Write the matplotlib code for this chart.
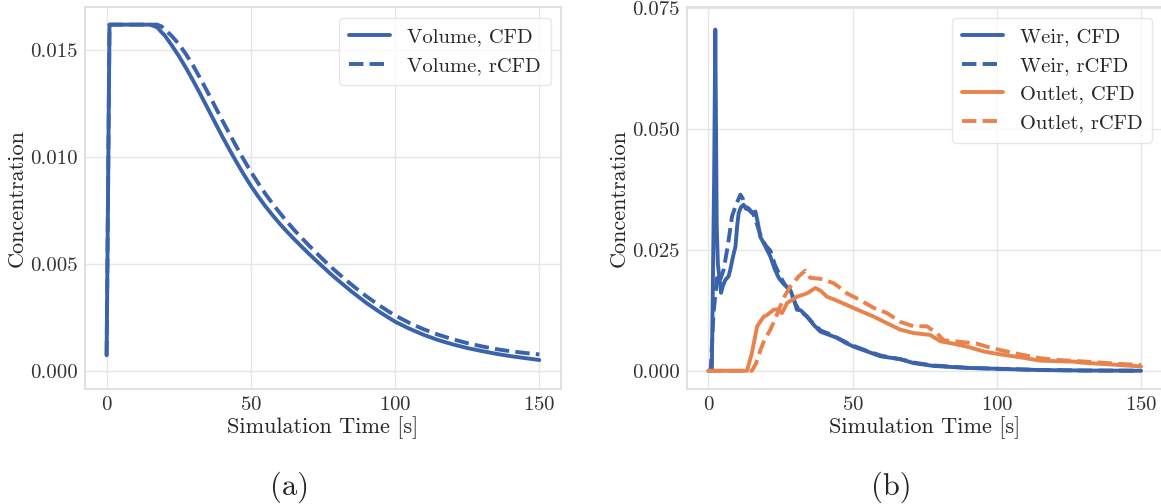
import matplotlib
matplotlib.use("Agg")
import matplotlib.pyplot as plt
from matplotlib.ticker import FormatStrFormatter

# ---- data -------------------------------------------------------------
# (a) tracer concentration averaged over the volume
t_volume = [0, 1, 5, 10, 15, 17.5, 19, 20, 22.5, 25, 27.5, 30, 32.5, 35, 37.5,
            40, 42.5, 45, 47.5, 50, 52.5, 55, 57.5, 60, 62.5, 65, 67.5, 70,
            72.5, 75, 77.5, 80, 82.5, 85, 87.5, 90, 92.5, 95, 97.5, 100, 105,
            110, 115, 120, 125, 130, 135, 140, 145, 150]
volume_cfd = [0.00075, 0.0162, 0.0162, 0.0162, 0.0162, 0.01608, 0.01585,
              0.01572, 0.01525, 0.01474, 0.01418, 0.01358, 0.01295, 0.01230,
              0.01165, 0.01100, 0.01038, 0.00978, 0.00921, 0.00867, 0.00818,
              0.00772, 0.00730, 0.00690, 0.00653, 0.00618, 0.00584, 0.00551,
              0.00519, 0.00488, 0.00457, 0.00428, 0.00400, 0.00372, 0.00346,
              0.00320, 0.00297, 0.00274, 0.00253, 0.00232, 0.00199, 0.00170,
              0.00146, 0.00126, 0.00109, 0.00095, 0.00082, 0.00071, 0.00062,
              0.00053]
volume_rcfd = [0.00075, 0.0162, 0.0162, 0.0162, 0.0162, 0.0162, 0.01612,
               0.01600, 0.01568, 0.01530, 0.01482, 0.01428, 0.01368, 0.01305,
               0.01240, 0.01175, 0.01112, 0.01050, 0.00990, 0.00933, 0.00880,
               0.00830, 0.00784, 0.00741, 0.00700, 0.00661, 0.00625, 0.00590,
               0.00556, 0.00523, 0.00491, 0.00461, 0.00432, 0.00404, 0.00377,
               0.00351, 0.00327, 0.00304, 0.00282, 0.00261, 0.00226, 0.00196,
               0.00171, 0.00150, 0.00132, 0.00117, 0.00104, 0.00094, 0.00086,
               0.00079]

# (b) concentration at the weir and at the outlet
t_weir_cfd = [0, 1.2, 2.0, 2.4, 2.9, 3.3, 4.4, 5.0, 5.9, 7.0, 7.6, 8.5, 9.4,
              10.0, 10.5, 11.3, 12.2, 13.0, 14.0, 15.1, 16.3, 17.0, 18.0, 19.5,
              21.5, 23.0, 24.4, 26.0, 28.4, 29.5, 30.7, 32.0, 34.2, 36.5, 38.8,
              41.5, 44.6, 47.5, 50.3, 55.0, 59.6, 66.5, 71.1, 78.0, 89.6, 101.0,
              115.0, 130.0, 150.0]
weir_cfd = [0, 0, 0.040, 0.0705, 0.030, 0.022, 0.0161, 0.0175, 0.0188, 0.0195,
            0.0209, 0.0235, 0.0257, 0.0300, 0.0326, 0.0338, 0.0343, 0.0335,
            0.0333, 0.0326, 0.0329, 0.0310, 0.0277, 0.0260, 0.0236, 0.0210,
            0.0192, 0.0180, 0.0167, 0.0150, 0.0126, 0.0125, 0.0112, 0.0095,
            0.0081, 0.0075, 0.0068, 0.0058, 0.0050, 0.0040, 0.0030, 0.0024,
            0.0016, 0.0010, 0.0006, 0.0004, 0.00015, 0.00005, 0.0]

t_weir_rcfd = [0, 0.8, 1.8, 3.2, 4.2, 5.3, 6.7, 8.2, 9.4, 11.1, 12.0, 12.8,
               14.0, 15.5, 17.0, 18.6, 20.0, 21.5, 23.0, 24.9, 26.5, 28.4, 30.0,
               31.5, 34.0, 36.5, 39.0, 42.0, 45.0, 48.0, 51.0, 55.0, 60.0, 66.5,
               72.0, 78.0, 90.0, 101.0, 115.0, 130.0, 150.0]
weir_rcfd = [0, 0, 0.012, 0.0202, 0.0190, 0.0209, 0.0257, 0.0319, 0.0340,
             0.0364, 0.0355, 0.0340, 0.0335, 0.0325, 0.0300, 0.0271, 0.0258,
             0.0248, 0.0220, 0.0195, 0.0178, 0.0165, 0.0140, 0.0125, 0.0113,
             0.0097, 0.0083, 0.0076, 0.0067, 0.0058, 0.0050, 0.0041, 0.0031,
             0.0024, 0.0016, 0.0011, 0.0006, 0.0004, 0.00018, 0.00006, 0.00002]

t_outlet_cfd = [0, 13.4, 15.1, 16.9, 19.2, 20.3, 22.6, 23.8, 25.5, 27.3, 30.7,
                34.2, 37.1, 39.0, 41.1, 44.5, 48.0, 52.5, 57.3, 62.0, 66.5,
                71.1, 76.9, 80.4, 85.0, 89.6, 95.4, 100.0, 104.6, 110.0, 115.0,
                120.0, 126.5, 131.0, 135.8, 142.0, 150.0]
outlet_cfd = [0, 0, 0.0037, 0.0092, 0.0112, 0.0115, 0.0126, 0.0127, 0.0119,
              0.0140, 0.0153, 0.0160, 0.0171, 0.0165, 0.0153, 0.0145, 0.0136,
              0.0124, 0.0112, 0.0098, 0.0085, 0.0078, 0.0074, 0.0061, 0.0056,
              0.0050, 0.0040, 0.0035, 0.0031, 0.0026, 0.0021, 0.0020, 0.0019,
              0.0016, 0.00145, 0.0012, 0.0009]

t_outlet_rcfd = [0, 15.1, 16.5, 18.0, 19.5, 21.5, 23.0, 24.9, 26.5, 28.4, 31.3,
                 33.6, 35.3, 38.8, 41.0, 43.4, 46.0, 48.0, 52.0, 57.3, 62.0,
                 66.5, 71.1, 75.7, 79.2, 81.5, 87.0, 93.1, 97.0, 101.1, 108.0,
                 115.0, 122.0, 128.0, 135.8, 143.0, 150.0]
outlet_rcfd = [0, 0, 0.0015, 0.0042, 0.0065, 0.0085, 0.0105, 0.0133, 0.0155,
               0.0174, 0.0195, 0.0207, 0.0192, 0.0190, 0.0186, 0.0181, 0.0170,
               0.0160, 0.0148, 0.0130, 0.0119, 0.0101, 0.0092, 0.0092, 0.0078,
               0.0063, 0.0060, 0.0056, 0.0049, 0.0043, 0.0034, 0.0026, 0.0022,
               0.0020, 0.0017, 0.0014, 0.0012]

yticks_a = [0.000, 0.005, 0.010, 0.015]
yticks_b = [0.000, 0.025, 0.050, 0.075]
xticks = [0, 50, 100, 150]

# ---- style ------------------------------------------------------------
BLUE = "#3b63ab"
ORANGE = "#e8834c"
plt.rcParams.update({
    "font.family": "cmr10",
    "mathtext.fontset": "cm",
    "axes.formatter.use_mathtext": True,
    "axes.unicode_minus": False,
    "text.color": "#262626",
    "axes.labelcolor": "#262626",
    "xtick.color": "#333333",
    "ytick.color": "#333333",
    "axes.edgecolor": "#dcdce0",
    "axes.linewidth": 1.2,
    "grid.color": "#e6e6e6",
    "grid.linewidth": 1.0,
})

LW = 2.8
fig = plt.figure(figsize=(11.61, 5.04), dpi=100)
ax1 = fig.add_axes([0.0732, 0.2288, 0.4100, 0.7567])
ax2 = fig.add_axes([0.5915, 0.2288, 0.4100, 0.7567])

ax1.plot(t_volume, volume_cfd, color=BLUE, lw=LW, solid_capstyle="round",
         solid_joinstyle="round", label="Volume, CFD")
ax1.plot(t_volume, volume_rcfd, color=BLUE, lw=LW, ls="--",
         label="Volume, rCFD")

ax2.plot(t_weir_cfd, weir_cfd, color=BLUE, lw=LW, solid_capstyle="round",
         solid_joinstyle="round", label="Weir, CFD")
ax2.plot(t_weir_rcfd, weir_rcfd, color=BLUE, lw=LW, ls="--",
         label="Weir, rCFD")
ax2.plot(t_outlet_cfd, outlet_cfd, color=ORANGE, lw=LW, solid_capstyle="round",
         solid_joinstyle="round", label="Outlet, CFD")
ax2.plot(t_outlet_rcfd, outlet_rcfd, color=ORANGE, lw=LW, ls="--",
         label="Outlet, rCFD")

ax1.set_ylim(-0.00081, 0.01701)
ax2.set_ylim(-0.0037, 0.0751)
ax1.set_yticks(yticks_a)
ax2.set_yticks(yticks_b)

for ax in (ax1, ax2):
    ax.set_xlim(-7.5, 157.5)
    ax.set_xticks(xticks)
    ax.yaxis.set_major_formatter(FormatStrFormatter("%.3f"))
    ax.grid(True)
    ax.set_axisbelow(True)
    ax.tick_params(length=0, labelsize=15, pad=5)
    ax.set_xlabel("Simulation Time [s]", fontsize=16, labelpad=2)
    ax.set_ylabel("Concentration", fontsize=16, labelpad=2.5)
    leg = ax.legend(loc="upper right", fontsize=14.8, frameon=True,
                    fancybox=True, framealpha=0.8, edgecolor="#e2e2e2",
                    handlelength=2.0, borderpad=0.5, labelspacing=0.5)
    leg.get_frame().set_linewidth(1.0)

fig.text(0.249, 0.034, "(a)", fontsize=22, ha="center", va="center")
fig.text(0.7674, 0.034, "(b)", fontsize=22, ha="center", va="center")

fig.savefig("out.png", dpi=100)
